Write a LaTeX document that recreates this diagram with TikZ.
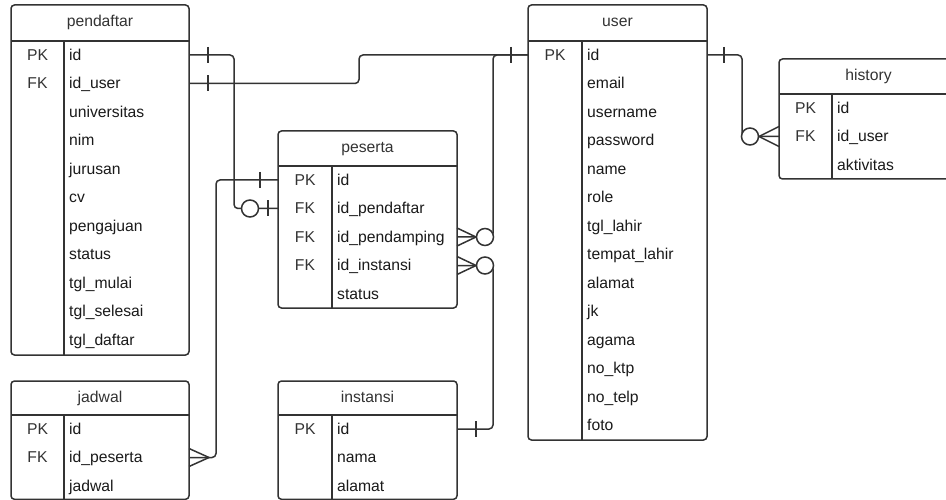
\documentclass[tikz,border=0pt]{standalone}
\usepackage{fontspec}
\setmainfont{Liberation Sans}
\usetikzlibrary{calc}
\definecolor{lc}{HTML}{333333}
\definecolor{tc}{HTML}{333333}
\definecolor{fc}{HTML}{1A1A1A}
\newcommand\erdfont{\fontsize{15.7pt}{18pt}\selectfont}
\tikzset{
 ln/.style={draw=lc, line width=1.5pt},
 tbl/.style={draw=lc, line width=1.5pt, rounded corners=3.5pt, inner sep=0pt, outer sep=0pt},
 rowbox/.style={inner sep=0pt, outer sep=0pt, minimum height=24pt},
 ttl/.style={text=tc, font=\erdfont, anchor=base, inner sep=0pt},
 keytxt/.style={text=tc, font=\erdfont, anchor=base, inner sep=0pt},
 fldtxt/.style={text=fc, font=\erdfont, anchor=base west, inner sep=0pt},
 conn/.style={ln, rounded corners=4pt},
 dot/.style={ln, fill=white},
}
% #1 name, #2 left, #3 top, #4 right, #5 key column, #6 header line, #7 bottom, #8 title, #9 rows
\newcommand\erdtab[9]{%
 \node[tbl, anchor=north west, minimum width={(#4-#2)*1pt}, minimum height={(#7-#3)*1pt}] (#1) at (#2,#3) {};
 \draw[ln] (#2,#6) -- (#4,#6);
 \draw[ln] (#5,#6) -- (#5,#7);
 \node[ttl] (#1-title) at ({(#2+#4)/2},{#3+21.4}) {#8};
 \foreach \k/\f [count=\i from 0] in {#9} {
   \node[rowbox, anchor=west, minimum width={(#4-#2)*1pt}] (#1-\i) at (#2,{#6+14+28.5*\i}) {};
   \node[keytxt] (#1-k\i) at ({(#2+#5)/2},{#6+19.3+28.5*\i}) {\k};
   \node[fldtxt] (#1-f\i) at ({#5+5},{#6+19.3+28.5*\i}) {\f};
 }
}
\begin{document}
\begin{tikzpicture}[x=1pt,y=-1pt]
\useasboundingbox (0,0) rectangle (946,500);
\clip (0,0) rectangle (946,500);
\fill[white] (0,0) rectangle (946,500);

\erdtab{pendaftar}{11}{5}{189}{64}{41}{355}{pendaftar}{PK/id, FK/id\_user, {}/universitas, {}/nim, {}/jurusan, {}/cv, {}/pengajuan, {}/status, {}/tgl\_mulai, {}/tgl\_selesai, {}/tgl\_daftar}
\erdtab{user}{528}{5}{707}{582}{41}{440}{user}{PK/id, {}/email, {}/username, {}/password, {}/name, {}/role, {}/tgl\_lahir, {}/tempat\_lahir, {}/alamat, {}/jk, {}/agama, {}/no\_ktp, {}/no\_telp, {}/foto}
\erdtab{history}{779}{59}{958}{832}{94}{179}{history}{PK/id, FK/id\_user, {}/aktivitas}
\erdtab{peserta}{278}{131}{457}{332}{166}{308}{peserta}{PK/id, FK/id\_pendaftar, FK/id\_pendamping, FK/id\_instansi, {}/status}
\erdtab{jadwal}{11}{381}{189}{64}{415}{499.3}{jadwal}{PK/id, FK/id\_peserta, {}/jadwal}
\erdtab{instansi}{278}{381}{457}{332}{415}{499.3}{instansi}{PK/id, {}/nama, {}/alamat}

% pendaftar.id -> peserta.id_pendaftar
\draw[conn] (pendaftar-0.east) -- ++(45,0) |- (peserta-1.west);
\draw[ln] ([xshift=19pt]pendaftar-0.east) +(0,-8) -- +(0,8);
\draw[ln] ([xshift=-10pt]peserta-1.west) +(0,-8) -- +(0,8);
\draw[dot] ([xshift=-28pt]peserta-1.west) circle[radius=8.5];

% pendaftar.id_user -> user.id
\draw[conn] (pendaftar-1.east) -- ++(170,0) |- (user-0.west);
\draw[ln] ([xshift=19pt]pendaftar-1.east) +(0,-8) -- +(0,8);
\draw[ln] ([xshift=-17pt]user-0.west) +(0,-8) -- +(0,8);

% user.id -> peserta.id_pendamping
\draw[conn] (user-0.west) -| ([xshift=36pt]peserta-2.east) -- (peserta-2.east);
\draw[ln] (peserta-2.east) +(0,-9) -- +(19,0) -- +(0,9);
\draw[dot] ([xshift=28pt]peserta-2.east) circle[radius=8.5];

% instansi.id -> peserta.id_instansi
\draw[conn] (instansi-0.east) -- ++(36,0) |- (peserta-3.east);
\draw[ln] ([xshift=19pt]instansi-0.east) +(0,-8) -- +(0,8);
\draw[ln] (peserta-3.east) +(0,-9) -- +(19,0) -- +(0,9);
\draw[dot] ([xshift=28pt]peserta-3.east) circle[radius=8.5];

% peserta.id -> jadwal.id_peserta
\draw[conn] (peserta-0.west) -- ++(-62,0) |- (jadwal-1.east);
\draw[ln] ([xshift=-18pt]peserta-0.west) +(0,-8) -- +(0,8);
\draw[ln] (jadwal-1.east) +(0,-9) -- +(20,0) -- +(0,9);

% user.id -> history.id_user
\draw[conn] (user-0.east) -- ++(35,0) |- (history-1.west);
\draw[ln] ([xshift=17pt]user-0.east) +(0,-8) -- +(0,8);
\draw[ln] (history-1.west) +(0,-10) -- +(-20,0) -- +(0,10);
\draw[dot] ([xshift=-29pt]history-1.west) circle[radius=8.5];
\end{tikzpicture}
\end{document}
